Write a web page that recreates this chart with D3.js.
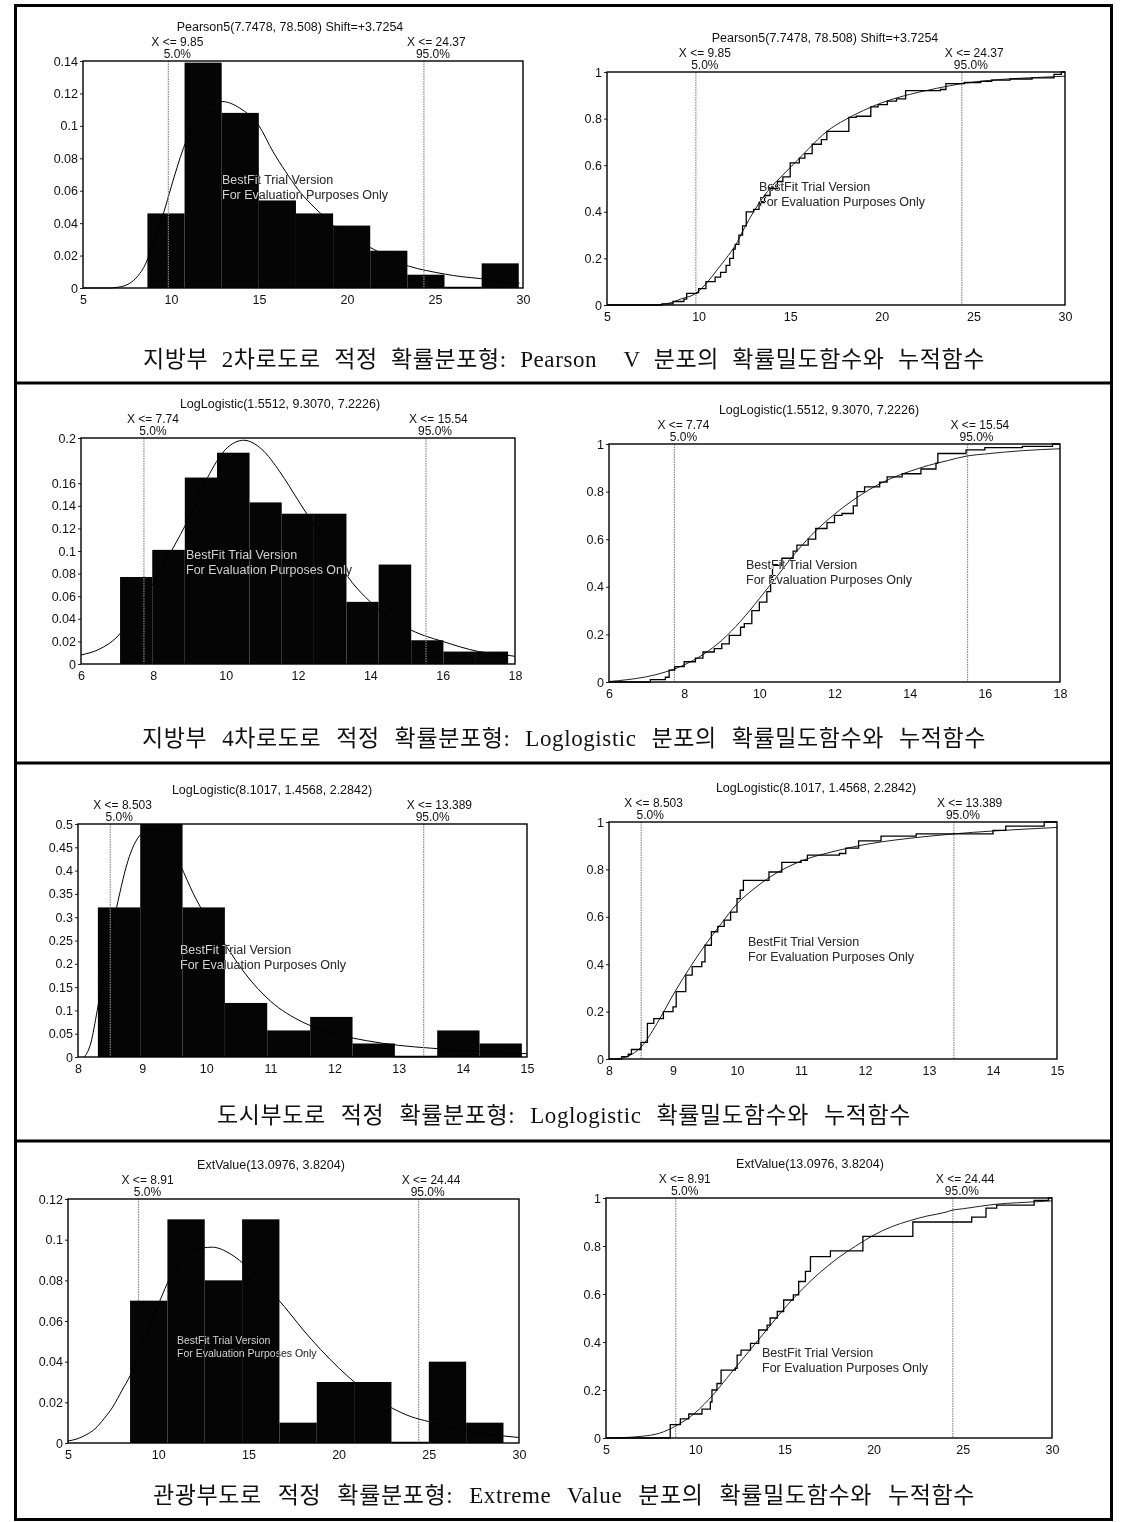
<!DOCTYPE html>
<html>
<head>
<meta charset="utf-8">
<script src="https://cdn.jsdelivr.net/npm/d3@7"></script>
<style>
body { margin: 0; background: #fff; }
svg text { font-family: "Liberation Sans", Arial, sans-serif; fill: #111; }
svg text.cap { font-family: "Liberation Serif", "Noto Sans CJK KR", serif; }
svg text.wm { fill: #d6d6d6; mix-blend-mode: difference; }
</style>
</head>
<body>
<svg id="fig" width="1127" height="1522"></svg>
<script>
// ---- row 1: 지방부 2차로 (Pearson5) ----
const r1Title = 'Pearson5(7.7478, 78.508) Shift=+3.7254';
const r1Quant = [9.85, 24.37];
const r1QuantLab = ['9.85', '24.37'];
const r1XTicks = [5, 10, 15, 20, 25, 30];
const r1YTicks = [0, 0.02, 0.04, 0.06, 0.08, 0.1, 0.12, 0.14];
const r1Edges = [8.66, 10.77, 12.88, 14.99, 17.10, 19.21, 21.32, 23.43, 25.54, 27.65, 29.76];
const r1Dens = [0.046, 0.139, 0.108, 0.054, 0.046, 0.0385, 0.023, 0.0082, 0, 0.0152];
const r1PdfX = [5, 6.5, 7, 7.5, 8, 8.6, 9.0, 9.6, 10.0, 10.7, 11.3, 12.0, 12.9, 13.9, 15.0, 15.8, 16.5, 17.2, 18.5, 19.5, 20.5, 21.5, 22.5, 23.5, 24.5, 25.6, 26.5, 27.6, 28.5, 29.8];
const r1PdfY = [0, 0, 0.0005, 0.002, 0.006, 0.016, 0.028, 0.047, 0.062, 0.086, 0.102, 0.112, 0.115, 0.111, 0.1, 0.084, 0.072, 0.061, 0.046, 0.036, 0.029, 0.024, 0.018, 0.0135, 0.0108, 0.0085, 0.007, 0.0058, 0.0045, 0.003];
const r1EcdfX = [5, 8.0, 8.6, 9.2, 9.35, 9.9, 10.0, 10.4, 10.9, 11.2, 11.5, 11.7, 11.9, 12.0, 12.2, 12.4, 12.6, 13.0, 13.3, 13.6, 13.9, 14.3, 14.6, 15.0, 15.5, 15.8, 16.2, 16.7, 17.0, 18.2, 18.6, 19.4, 19.8, 20.3, 20.8, 21.3, 23.2, 23.5, 24.5, 25.4, 26.0, 27.0, 28.2, 29.4, 29.8];
const r1EcdfY = [0, 0.005, 0.015, 0.025, 0.05, 0.053, 0.07, 0.1, 0.12, 0.14, 0.17, 0.2, 0.24, 0.26, 0.3, 0.34, 0.4, 0.41, 0.44, 0.47, 0.5, 0.53, 0.55, 0.61, 0.63, 0.65, 0.69, 0.71, 0.745, 0.805, 0.81, 0.85, 0.86, 0.875, 0.885, 0.92, 0.925, 0.95, 0.955, 0.96, 0.965, 0.97, 0.975, 0.99, 1.0];
const r1CdfX = [5, 7.5, 8.5, 9, 9.85, 10.5, 11, 11.5, 12, 12.5, 13, 13.5, 14, 14.5, 15, 15.5, 16, 16.5, 17, 18, 19, 20, 21, 22, 23, 24.37, 26, 28, 30];
const r1CdfY = [0, 0, 0.01, 0.025, 0.05, 0.1, 0.15, 0.2, 0.255, 0.33, 0.4, 0.46, 0.51, 0.55, 0.59, 0.63, 0.67, 0.71, 0.745, 0.795, 0.835, 0.868, 0.893, 0.913, 0.93, 0.95, 0.965, 0.975, 0.982];
const r1Caption = '지방부 2차로도로 적정 확률분포형: Pearson  V 분포의 확률밀도함수와 누적함수';

// ---- row 2: 지방부 4차로 (LogLogistic) ----
const r2Title = 'LogLogistic(1.5512, 9.3070, 7.2226)';
const r2Quant = [7.74, 15.54];
const r2QuantLab = ['7.74', '15.54'];
const r2XTicks = [6, 8, 10, 12, 14, 16, 18];
const r2YTicks = [0, 0.02, 0.04, 0.06, 0.08, 0.1, 0.12, 0.14, 0.16, 0.2];
const r2Edges = [7.08, 7.97, 8.87, 9.76, 10.66, 11.55, 12.44, 13.34, 14.23, 15.13, 16.02, 16.92, 17.81];
const r2Dens = [0.077, 0.101, 0.165, 0.187, 0.143, 0.133, 0.133, 0.055, 0.088, 0.021, 0.011, 0.011];
const r2PdfX = [6, 6.5, 7, 7.5, 8, 8.5, 9, 9.5, 10, 10.5, 11, 11.5, 12, 12.5, 13, 13.5, 14, 14.5, 15, 15.5, 16, 16.5, 17, 17.5, 18];
const r2PdfY = [0.008, 0.013, 0.024, 0.045, 0.072, 0.1, 0.13, 0.165, 0.19, 0.198, 0.19, 0.17, 0.145, 0.12, 0.095, 0.072, 0.055, 0.042, 0.032, 0.025, 0.02, 0.015, 0.011, 0.009, 0.0068];
const r2EcdfX = [6, 7.1, 7.5, 7.6, 7.75, 8.0, 8.3, 8.5, 8.8, 9.0, 9.2, 9.5, 9.6, 9.8, 10.0, 10.2, 10.3, 10.35, 10.6, 10.9, 11.0, 11.3, 11.5, 11.8, 12.0, 12.2, 12.5, 12.6, 12.8, 13.2, 13.4, 13.8, 14.3, 14.7, 14.75, 15.5, 16.0, 17.0, 17.8];
const r2EcdfY = [0, 0.01, 0.02, 0.05, 0.065, 0.085, 0.1, 0.126, 0.14, 0.16, 0.196, 0.23, 0.245, 0.3, 0.336, 0.38, 0.44, 0.49, 0.52, 0.55, 0.575, 0.6, 0.645, 0.67, 0.7, 0.708, 0.74, 0.8, 0.82, 0.84, 0.862, 0.875, 0.895, 0.92, 0.96, 0.975, 0.985, 0.99, 1.0];
const r2CdfX = [6, 6.5, 7, 7.5, 8, 8.5, 9, 9.5, 10, 10.5, 11, 11.5, 12, 12.5, 13, 13.5, 14, 14.5, 15, 15.54, 16, 17, 18];
const r2CdfY = [0.002, 0.01, 0.022, 0.042, 0.072, 0.115, 0.175, 0.255, 0.35, 0.45, 0.55, 0.635, 0.705, 0.765, 0.815, 0.855, 0.885, 0.91, 0.93, 0.95, 0.958, 0.972, 0.98];
const r2Caption = '지방부 4차로도로 적정 확률분포형: Loglogistic 분포의 확률밀도함수와 누적함수';

// ---- row 3: 도시부 (LogLogistic) ----
const r3Title = 'LogLogistic(8.1017, 1.4568, 2.2842)';
const r3Quant = [8.503, 13.389];
const r3QuantLab = ['8.503', '13.389'];
const r3XTicks = [8, 9, 10, 11, 12, 13, 14, 15];
const r3YTicks = [0, 0.05, 0.1, 0.15, 0.2, 0.25, 0.3, 0.35, 0.4, 0.45, 0.5];
const r3Edges = [8.31, 8.97, 9.63, 10.29, 10.95, 11.62, 12.28, 12.94, 13.60, 14.26, 14.92];
const r3Dens = [0.321, 0.5, 0.321, 0.116, 0.057, 0.086, 0.029, 0, 0.057, 0.029];
const r3PdfX = [8.1, 8.2, 8.3, 8.45, 8.6, 8.8, 9.0, 9.2, 9.4, 9.6, 9.8, 10.0, 10.3, 10.6, 11.0, 11.5, 12, 12.5, 13, 13.5, 14, 14.5, 15];
const r3PdfY = [0, 0.03, 0.1, 0.22, 0.32, 0.43, 0.48, 0.49, 0.46, 0.41, 0.35, 0.3, 0.24, 0.18, 0.12, 0.075, 0.05, 0.035, 0.025, 0.019, 0.014, 0.01, 0.007];
const r3EcdfX = [8, 8.2, 8.3, 8.35, 8.5, 8.6, 8.7, 8.85, 9.0, 9.05, 9.2, 9.3, 9.45, 9.5, 9.6, 9.7, 9.8, 9.9, 10.0, 10.05, 10.1, 10.5, 10.7, 11.0, 11.1, 11.6, 11.7, 11.9, 12.25, 12.8, 14.0, 14.2, 14.8];
const r3EcdfY = [0, 0.01, 0.02, 0.04, 0.07, 0.15, 0.17, 0.2, 0.22, 0.284, 0.354, 0.39, 0.41, 0.48, 0.537, 0.56, 0.586, 0.62, 0.677, 0.712, 0.754, 0.789, 0.83, 0.838, 0.86, 0.867, 0.89, 0.92, 0.94, 0.95, 0.965, 0.983, 1.0];
const r3CdfX = [8.1, 8.3, 8.5, 8.75, 9.0, 9.25, 9.5, 9.75, 10, 10.25, 10.5, 11, 11.5, 12, 12.5, 13, 13.389, 14, 14.5, 15];
const r3CdfY = [0, 0.012, 0.05, 0.15, 0.27, 0.38, 0.48, 0.57, 0.655, 0.715, 0.765, 0.835, 0.875, 0.905, 0.925, 0.94, 0.95, 0.962, 0.97, 0.977];
const r3Caption = '도시부도로 적정 확률분포형: Loglogistic 확률밀도함수와 누적함수';

// ---- row 4: 관광부 (ExtValue) ----
const r4Title = 'ExtValue(13.0976, 3.8204)';
const r4Quant = [8.91, 24.44];
const r4QuantLab = ['8.91', '24.44'];
const r4XTicks = [5, 10, 15, 20, 25, 30];
const r4YTicks = [0, 0.02, 0.04, 0.06, 0.08, 0.1, 0.12];
const r4Edges = [8.44, 10.51, 12.58, 14.65, 16.72, 18.79, 20.86, 22.93, 25.0, 27.07, 29.14];
const r4Dens = [0.07, 0.11, 0.08, 0.11, 0.01, 0.03, 0.03, 0, 0.04, 0.01];
const r4PdfX = [5, 5.5, 6, 6.5, 7, 7.5, 8, 8.44, 9, 10, 11, 12, 13, 14, 15, 16, 17, 18, 19, 20, 21, 22, 23, 24, 25, 26, 27, 28, 29, 30];
const r4PdfY = [0.001, 0.002, 0.004, 0.007, 0.012, 0.018, 0.026, 0.033, 0.045, 0.068, 0.087, 0.095, 0.0963, 0.093, 0.086, 0.077, 0.067, 0.056, 0.046, 0.037, 0.029, 0.022, 0.017, 0.013, 0.0105, 0.008, 0.006, 0.0047, 0.0036, 0.0027];
const r4EcdfX = [5, 8.6, 9.17, 9.64, 10.38, 10.85, 10.94, 11.22, 11.45, 12.25, 12.35, 12.57, 13.1, 13.56, 14.03, 14.2, 14.6, 14.96, 15.5, 15.8, 16.18, 16.46, 17.58, 19.4, 22.2, 25.5, 26.3, 26.9, 29.0, 29.8];
const r4EcdfY = [0, 0.056, 0.08, 0.1, 0.12, 0.15, 0.2, 0.227, 0.283, 0.29, 0.345, 0.366, 0.394, 0.45, 0.47, 0.5, 0.527, 0.575, 0.596, 0.652, 0.694, 0.756, 0.78, 0.84, 0.9, 0.92, 0.958, 0.97, 0.99, 1.0];
const r4CdfX = [5, 6, 7, 8, 8.91, 10, 11, 12, 13, 14, 15, 16, 17, 18, 19, 20, 21, 22, 23, 24, 24.44, 25, 26, 27, 28, 30];
const r4CdfY = [0, 0.002, 0.007, 0.02, 0.05, 0.105, 0.18, 0.27, 0.36, 0.45, 0.54, 0.62, 0.69, 0.75, 0.8, 0.845, 0.88, 0.905, 0.925, 0.94, 0.95, 0.955, 0.966, 0.975, 0.98, 0.988];
const r4Caption = '관광부도로 적정 확률분포형: Extreme Value 분포의 확률밀도함수와 누적함수';

const cdfYTicks = [0, 0.2, 0.4, 0.6, 0.8, 1];
const wmLines = ['BestFit Trial Version', 'For Evaluation Purposes Only'];

// page layout (pixel boxes of each plot area)
const rows = [
  { title: r1Title, quant: r1Quant, qlab: r1QuantLab, xt: r1XTicks, yt: r1YTicks, edges: r1Edges, dens: r1Dens,
    pdf: [r1PdfX, r1PdfY], ecdf: [r1EcdfX, r1EcdfY], cdf: [r1CdfX, r1CdfY], cap: r1Caption,
    L: { x0: 83, x1: 523, y0: 61, y1: 288, tx: 290, wm: [222, 184], lineTop: true },
    R: { x0: 607, x1: 1065, y0: 72, y1: 305, tx: 825, wm: [759, 191] }, capY: 367, capLen: 842 },
  { title: r2Title, quant: r2Quant, qlab: r2QuantLab, xt: r2XTicks, yt: r2YTicks, edges: r2Edges, dens: r2Dens,
    pdf: [r2PdfX, r2PdfY], ecdf: [r2EcdfX, r2EcdfY], cdf: [r2CdfX, r2CdfY], cap: r2Caption,
    L: { x0: 81, x1: 515, y0: 438, y1: 664, tx: 280, wm: [186, 559], lineTop: true },
    R: { x0: 609, x1: 1060, y0: 444, y1: 682, tx: 819, wm: [746, 569] }, capY: 746, capLen: 844 },
  { title: r3Title, quant: r3Quant, qlab: r3QuantLab, xt: r3XTicks, yt: r3YTicks, edges: r3Edges, dens: r3Dens,
    pdf: [r3PdfX, r3PdfY], ecdf: [r3EcdfX, r3EcdfY], cdf: [r3CdfX, r3CdfY], cap: r3Caption,
    L: { x0: 78, x1: 527, y0: 824, y1: 1057, tx: 272, wm: [180, 954], lineTop: true },
    R: { x0: 609, x1: 1057, y0: 822, y1: 1059, tx: 816, wm: [748, 946] }, capY: 1123, capLen: 694 },
  { title: r4Title, quant: r4Quant, qlab: r4QuantLab, xt: r4XTicks, yt: r4YTicks, edges: r4Edges, dens: r4Dens,
    pdf: [r4PdfX, r4PdfY], ecdf: [r4EcdfX, r4EcdfY], cdf: [r4CdfX, r4CdfY], cap: r4Caption,
    L: { x0: 68, x1: 519, y0: 1199, y1: 1443, tx: 271, wm: [177, 1344], lineTop: false, wmSize: 10.5 },
    R: { x0: 606, x1: 1052, y0: 1198, y1: 1438, tx: 810, wm: [762, 1357] }, capY: 1503, capLen: 822 }
];

const svg = d3.select('#fig');
svg.append('rect').attr('width', 1127).attr('height', 1522).attr('fill', '#fff');

const fmtY = v => v === 0 ? '0' : String(+v.toFixed(2));

function frame(g, box, x, y, row, yTicks) {
  const ax = g.append('g').attr('transform', `translate(0,${box.y1})`)
    .call(d3.axisBottom(x).tickValues(row.xt).tickSize(0).tickPadding(7).tickFormat(d3.format('d')));
  ax.select('.domain').remove();
  ax.selectAll('text').attr('font-size', 12.5);

  const ay = g.append('g').attr('transform', `translate(${box.x0},0)`)
    .call(d3.axisLeft(y).tickValues(yTicks).tickSize(3).tickPadding(2).tickFormat(fmtY));
  ay.select('.domain').remove();
  ay.selectAll('line').attr('stroke', '#222');
  ay.selectAll('text').attr('font-size', 12.5);

  g.append('rect')
    .attr('x', box.x0).attr('y', box.y0)
    .attr('width', box.x1 - box.x0).attr('height', box.y1 - box.y0)
    .attr('fill', 'none').attr('stroke', '#000').attr('stroke-width', 1.4);

  g.append('text').attr('x', box.tx).attr('y', box.y0 - 30)
    .attr('text-anchor', 'middle').attr('font-size', 12.5).text(row.title);

  row.quant.forEach((q, i) => {
    const lx = x(q);
    g.append('text').attr('x', lx - 17).attr('y', box.y0 - 15).attr('font-size', 12)
      .text('X <= ' + row.qlab[i]);
    g.append('text').attr('x', lx + 9).attr('y', box.y0 - 3.5).attr('text-anchor', 'middle')
      .attr('font-size', 12).text(i === 0 ? '5.0%' : '95.0%');
  });
}

function quantLines(g, box, x, row) {
  g.selectAll(null).data(row.quant).join('line')
    .attr('x1', d => x(d)).attr('x2', d => x(d))
    .attr('y1', box.y0).attr('y2', box.y1)
    .attr('stroke', '#8a8a8a').attr('stroke-width', 1.2).attr('stroke-dasharray', '1.5,1');
}

function watermark(g, box) {
  const fs = box.wmSize || 12.5;
  wmLines.forEach((t, i) => {
    g.append('text').attr('class', 'wm')
      .attr('x', box.wm[0]).attr('y', box.wm[1] + i * (fs + 2.5))
      .attr('font-size', fs).text(t);
  });
}

function drawPdf(row) {
  const box = row.L;
  const g = svg.append('g');
  const xd = [row.xt[0], row.xt[row.xt.length - 1]];
  const x = d3.scaleLinear().domain(xd).range([box.x0, box.x1]);
  const y = d3.scaleLinear().domain([0, d3.max(row.yt)]).range([box.y1, box.y0]);

  if (!box.lineTop) quantLines(g, box, x, row);

  const bins = row.dens.map((v, i) => ({ a: row.edges[i], b: row.edges[i + 1], v }));
  g.selectAll('rect.bar').data(bins).join('rect').attr('class', 'bar')
    .attr('x', d => x(d.a)).attr('width', d => x(d.b) - x(d.a))
    .attr('y', d => y(d.v)).attr('height', d => y(0) - y(d.v))
    .attr('fill', '#050505');
  // zero-height bins still leave a thin base line
  g.selectAll('line.zero').data(bins.filter(d => d.v === 0)).join('line').attr('class', 'zero')
    .attr('x1', d => x(d.a)).attr('x2', d => x(d.b)).attr('y1', y(0) - 0.5).attr('y2', y(0) - 0.5)
    .attr('stroke', '#000').attr('stroke-width', 1.5);

  const pts = row.pdf[0].map((v, i) => [v, row.pdf[1][i]]);
  g.append('path').datum(pts)
    .attr('d', d3.line().x(d => x(d[0])).y(d => y(d[1])).curve(d3.curveMonotoneX))
    .attr('fill', 'none').attr('stroke', '#000').attr('stroke-width', 1);

  if (box.lineTop) quantLines(g, box, x, row);
  frame(g, box, x, y, row, row.yt);
  watermark(g, box);
}

function drawCdf(row) {
  const box = row.R;
  const g = svg.append('g');
  const xd = [row.xt[0], row.xt[row.xt.length - 1]];
  const x = d3.scaleLinear().domain(xd).range([box.x0, box.x1]);
  const y = d3.scaleLinear().domain([0, 1]).range([box.y1, box.y0]);

  quantLines(g, box, x, row);

  const fit = row.cdf[0].map((v, i) => [v, row.cdf[1][i]]);
  g.append('path').datum(fit)
    .attr('d', d3.line().x(d => x(d[0])).y(d => y(d[1])).curve(d3.curveMonotoneX))
    .attr('fill', 'none').attr('stroke', '#222').attr('stroke-width', 1);

  const emp = row.ecdf[0].map((v, i) => [v, row.ecdf[1][i]]);
  emp.push([xd[1], emp[emp.length - 1][1]]);
  g.append('path').datum(emp)
    .attr('d', d3.line().x(d => x(d[0])).y(d => y(d[1])).curve(d3.curveStepAfter))
    .attr('fill', 'none').attr('stroke', '#000').attr('stroke-width', 1.3);

  frame(g, box, x, y, row, cdfYTicks);
  watermark(g, box);
}

rows.forEach(row => {
  drawPdf(row);
  drawCdf(row);
  // caption: slight letter spacing, then widen the word gaps to the reference width
  const cap = svg.append('text').attr('class', 'cap')
    .attr('x', 564).attr('y', row.capY).attr('text-anchor', 'middle')
    .attr('font-size', 23).attr('letter-spacing', 0.6).style('white-space', 'pre').text(row.cap);
  const gaps = row.cap.split(' ').length - 1;
  const extra = (row.capLen - cap.node().getComputedTextLength()) / gaps;
  cap.attr('word-spacing', Math.max(0, extra));
});

// outer frame and row separators
svg.append('rect').attr('x', 15.5).attr('y', 5.5).attr('width', 1096).attr('height', 1514)
  .attr('fill', 'none').attr('stroke', '#000').attr('stroke-width', 3);
svg.selectAll('line.sep').data([383, 763, 1141]).join('line').attr('class', 'sep')
  .attr('x1', 15).attr('x2', 1112).attr('y1', d => d).attr('y2', d => d)
  .attr('stroke', '#000').attr('stroke-width', 3);
</script>
</body>
</html>
